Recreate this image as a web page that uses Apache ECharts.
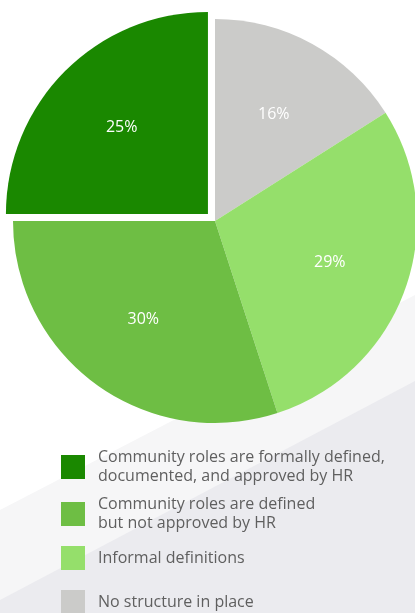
<!DOCTYPE html>
<html>
<head>
<meta charset="utf-8">
<style>
  html, body { margin: 0; padding: 0; background: #ffffff; }
  #chart { width: 415px; height: 613px; }
</style>
<script src="https://cdn.jsdelivr.net/npm/echarts@6/dist/echarts.min.js"></script>
</head>
<body>
<div id="chart"></div>
<script>
// Categories, in the order they appear in the legend
const categories = [
  'Community roles are formally defined,\ndocumented, and approved by HR',
  'Community roles are defined\nbut not approved by HR',
  'Informal definitions',
  'No structure in place'
];
// Share of respondents (%) per category
const values = [25, 30, 29, 16];
const colors = ['#1a8800', '#6ebe44', '#95df6b', '#cbcbc9'];

// Slices are drawn clockwise from 12 o'clock in this order
const sliceOrder = [3, 2, 1, 0];
const highlighted = 0; // the pulled-out slice

const chart = echarts.init(document.getElementById('chart'), null, { renderer: 'canvas' });

const sliceData = sliceOrder.map(i => ({
  name: categories[i],
  value: values[i],
  selected: i === highlighted,
  itemStyle: { color: colors[i] }
}));

const font = '"Open Sans", "Noto Sans", sans-serif';

// One legend block per category so each row sits on its own line
const legendTops = [448, 495, 546, 590];
const legends = categories.map((name, i) => ({
  data: [name],
  orient: 'vertical',
  left: 61,
  top: legendTops[i],
  padding: 0,
  icon: 'rect',
  itemWidth: 24,
  itemHeight: 24,
  selectedMode: false,
  textStyle: {
    color: '#5f5f5f',
    fontFamily: font,
    fontSize: 16,
    lineHeight: 19,
    padding: [0, 0, 0, 8]
  }
}));

const option = {
  backgroundColor: '#ffffff',
  animation: false,
  graphic: [
    {
      type: 'polygon', z: -10, silent: true,
      shape: { points: [[0, 510], [415, 295], [415, 613], [0, 613]] },
      style: { fill: '#f6f6f7' }
    },
    {
      type: 'polygon', z: -9, silent: true,
      shape: { points: [[0, 600], [415, 381], [415, 613], [0, 613]] },
      style: { fill: '#ebebef' }
    }
  ],
  legend: legends,
  series: [
    {
      type: 'pie',
      center: [215, 221],
      radius: [0, 202],
      startAngle: 90,
      clockwise: true,
      selectedMode: 'single',
      selectedOffset: 10,
      label: { show: false },
      labelLine: { show: false },
      emphasis: { disabled: true },
      select: { itemStyle: { borderWidth: 0 } },
      data: sliceData
    },
    {
      // invisible twin that only carries the percentage labels
      type: 'pie',
      silent: true,
      center: [215, 221],
      radius: [0, 238],
      startAngle: 90,
      clockwise: true,
      selectedMode: 'single',
      selectedOffset: 10,
      itemStyle: { color: 'rgba(0,0,0,0)' },
      emphasis: { disabled: true },
      select: { itemStyle: { color: 'rgba(0,0,0,0)', borderWidth: 0 } },
      labelLine: { show: false },
      label: {
        show: true,
        position: 'inside',
        formatter: p => p.value + '%',
        color: '#ffffff',
        fontFamily: font,
        fontSize: 16
      },
      data: sliceData.map(d => ({ name: d.name, value: d.value, selected: d.selected }))
    }
  ]
};

chart.setOption(option);
</script>
</body>
</html>
